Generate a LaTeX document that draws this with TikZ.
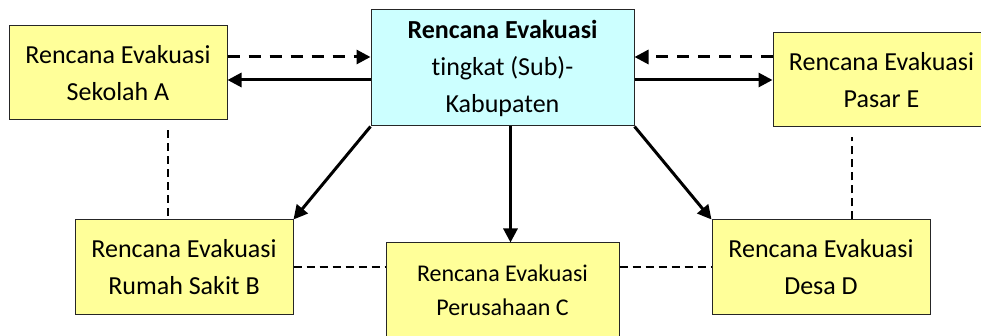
\documentclass[tikz,border=0pt]{standalone}
\usepackage{fontspec}
\setmainfont{Carlito}[Ligatures=NoCommon]
\usetikzlibrary{arrows.meta}
\definecolor{planyellow}{HTML}{FFFF99}
\definecolor{pusatcyan}{HTML}{CCFFFF}

\begin{document}
\begin{tikzpicture}[x=1pt,y=-1pt,
    plan/.style={draw=black!85,line width=1pt,fill=planyellow,align=center,inner sep=0pt,
      minimum width=218pt,minimum height=94pt,font=\fontsize{26}{37}\selectfont},
    pusat/.style={plan,fill=pusatcyan,minimum width=263pt,minimum height=116pt},
    perintah/.style={line width=3pt,-{Triangle[length=14pt,width=14pt]}},
    lapor/.style={line width=3pt,dash pattern=on 12pt off 9pt,-{Triangle[length=14pt,width=14pt]}},
    koord/.style={line width=2pt,dash pattern=on 8pt off 5pt}]
  \useasboundingbox (0,0) rectangle (981,336);
  \clip (0,0) rectangle (981,336);
  \node (K) at (502.5,68) [pusat] {\textbf{Rencana Evakuasi}\\tingkat (Sub)-\\Kabupaten};
  \node (A) at (118,73) [plan] {Rencana Evakuasi\\Sekolah A};
  \node (E) at (881.5,80) [plan,minimum width=217pt] {Rencana Evakuasi\\Pasar E};
  \node (B) at (184,267) [plan] {Rencana Evakuasi\\Rumah Sakit B};
  \node (C) at (502.5,290) [plan,minimum width=233pt,font=\fontsize{24}{34}\selectfont] {Rencana Evakuasi\\Perusahaan C};
  \node (D) at (821,267) [plan] {Rencana Evakuasi\\Desa D};

  \draw[lapor] ([yshift=16pt]A.east) -- ([yshift=16pt]A.east -| K.west);
  \draw[perintah] ([yshift=-7pt]A.east -| K.west) -- ([yshift=-7pt]A.east);
  \draw[lapor] ([yshift=23pt]E.west) -- ([yshift=23pt]E.west -| K.east);
  \draw[perintah] (E.west -| K.east) -- (E.west);
  \draw[perintah] (K.south west) -- (B.north east);
  \draw[perintah] ([xshift=8pt]C.north |- K.south) -- ([xshift=8pt]C.north);
  \draw[perintah] (K.south east) -- (D.north west);

  \draw[koord] ([xshift=50pt,yshift=-10pt]A.south) -- ([xshift=50pt]A.south |- B.north);
  \draw[koord] ([xshift=31pt]D.north) -- ([xshift=31pt,yshift=-10pt]D.north |- E.south);
  \draw[koord] (B.east) -- (B.east -| C.west);
  \draw[koord] (D.west -| C.east) -- (D.west);
\end{tikzpicture}
\end{document}
